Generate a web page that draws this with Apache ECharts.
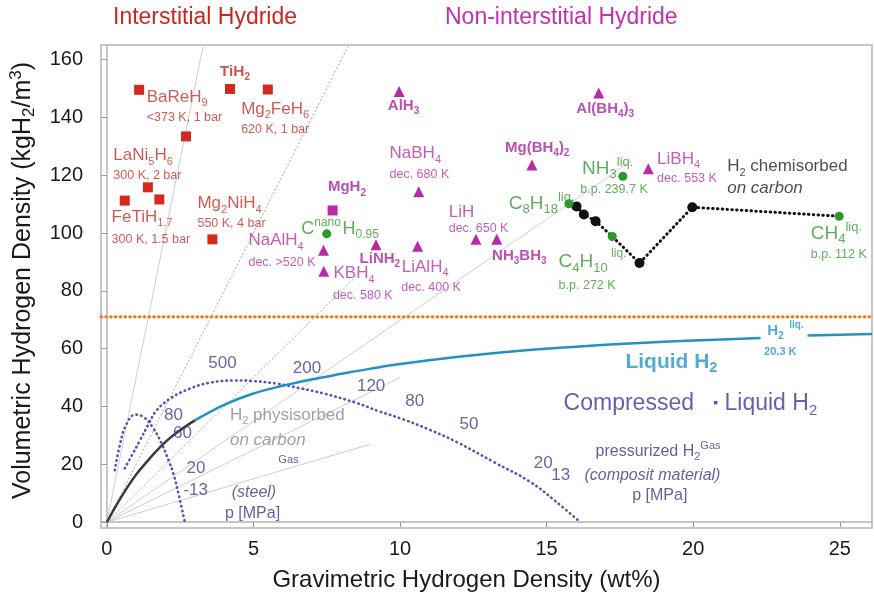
<!DOCTYPE html>
<html>
<head>
<meta charset="utf-8">
<script src="https://cdn.jsdelivr.net/npm/echarts@6/dist/echarts.min.js"></script>
<style>
  html, body { margin: 0; padding: 0; background: #fff; }
  #chart { width: 874px; height: 598px; }
</style>
</head>
<body>
<div id="chart"></div>
<script>
// 轴刻度
const xTicks = [0, 5, 10, 15, 20, 25]
const yTicks = [0, 20, 40, 60, 80, 100, 120, 140, 160]

// interstitial hydrides (red squares)
const interstitialPts = [[1.10, 149.5], [4.20, 149.8], [5.49, 149.6], [2.70, 133.4], [1.40, 115.8], [0.61, 111.2], [1.79, 111.6], [3.60, 97.8]]
// non-interstitial hydrides
const complexTriangles = [[9.97, 148.9], [16.78, 148.4], [14.5, 123.5], [10.64, 114.3], [18.47, 122.2], [7.39, 94.0], [7.40, 86.8], [9.18, 95.9], [10.6, 95.4], [12.59, 97.8], [13.3, 97.8]]
const complexSquares = [[7.70, 107.8]]
// hydrocarbons / liquids (green)
const liquidPts = [[7.50, 99.7], [15.76, 110.1], [17.6, 119.6], [17.24, 98.8], [24.98, 105.8]]
// H2 chemisorbed on carbon
const chemisorbedPts = [[16.02, 109.2], [16.27, 106.4], [16.67, 104.1], [18.17, 89.6], [19.97, 108.9]]
const chemisorbedPath = [[16.02, 109.2], [16.27, 106.4], [16.67, 104.1], [17.24, 98.8], [18.17, 89.6], [19.97, 108.9], [24.98, 105.8]]

// physisorbed / liquid H2 curve
const physisorbedCurve = [[0, 0], [0.3, 5.5], [0.6, 10.5], [1.0, 16.5], [1.5, 22.5], [2.0, 27.8], [2.5, 31.8], [3.0, 35.2]]
const liquidCurve = [[3.0, 35.2], [4, 40.6], [5, 44.5], [6, 47.2], [7, 49.4], [8, 51.3], [9, 53.1], [10, 54.7], [12, 57.2], [14, 59.2], [16, 60.7], [18, 61.9], [20, 62.8], [22.3, 63.7], [23, '-'], [23.9, 64.6], [26.1, 65.1]]
const liquidLevel = 71

// compressed gas
const steelCurve = [[0.27, 18], [0.45, 27], [0.65, 33.5], [0.96, 37.2], [1.25, 36.4], [1.55, 33], [1.87, 27.2], [2.1, 21.5], [2.27, 16.8], [2.45, 9.5], [2.66, 0]]
const compositeCurve = [[0.61, 18.6], [0.9, 24], [1.13, 28.3], [1.4, 33.5], [1.7, 38.7], [2.2, 43], [2.83, 46.2], [3.5, 48.2], [4.3, 49], [5.0, 48.8], [5.8, 47.9], [6.6, 46.3], [7.4, 44.5], [8.5, 41.3], [9.3, 38.3], [10.1, 35.6], [11, 32], [11.94, 27.7], [13.2, 20.8], [14.45, 13.9], [15.3, 7.3], [16.15, 0]]

// 密度参考线（从原点出发的终点）
const guideEnds = [[3.29, 165], [8.25, 165], [8.6, 86], [17.9, 125], [10, 50], [9, 27]]

// 文字标注 [x, y, text, style, align]
const textLabels = [
  [4.37, 155.9, 'TiH{b|2}', 'redB', 'center'],
  [1.36, 146.9, 'BaReH{b|9}', 'red', 'left'],
  [1.36, 139.8, '<373 K, 1 bar', 'redS', 'left'],
  [4.58, 142.9, 'Mg{b|2}FeH{b|6}', 'red', 'left'],
  [4.58, 135.7, '620 K, 1 bar', 'redS', 'left'],
  [0.22, 126.8, 'LaNi{b|5}H{b|6}', 'red', 'left'],
  [0.22, 119.9, '300 K, 2 bar', 'redS', 'left'],
  [0.16, 105.5, 'FeTiH{b|1.7}', 'red', 'left'],
  [0.16, 97.8, '300 K, 1.5 bar', 'redS', 'left'],
  [3.09, 110.1, 'Mg{b|2}NiH{b|4}', 'red', 'left'],
  [3.09, 103.4, '550 K, 4 bar', 'redS', 'left'],
  [10.12, 144.0, 'AlH{b|3}', 'magB', 'center'],
  [17.0, 142.9, 'Al(BH{b|4}){b|3}', 'magB', 'center'],
  [14.68, 129.4, 'Mg(BH{b|4}){b|2}', 'magB', 'center'],
  [10.52, 127.4, 'NaBH{b|4}', 'mag', 'center'],
  [10.66, 120.1, 'dec. 680 K', 'magS', 'center'],
  [18.77, 125.6, 'LiBH{b|4}', 'mag', 'left'],
  [18.77, 118.7, 'dec. 553 K', 'magS', 'left'],
  [8.19, 115.8, 'MgH{b|2}', 'magB', 'center'],
  [4.83, 97.4, 'NaAlH{b|4}', 'mag', 'left'],
  [4.83, 89.9, 'dec. >520 K', 'magS', 'left'],
  [7.73, 85.9, 'KBH{b|4}', 'mag', 'left'],
  [7.71, 78.4, 'dec. 580 K', 'magS', 'left'],
  [8.62, 91.1, 'LiNH{b|2}', 'magB', 'left'],
  [10.06, 88.2, 'LiAlH{b|4}', 'mag', 'left'],
  [10.04, 81.3, 'dec. 400 K', 'magS', 'left'],
  [11.66, 107.2, 'LiH', 'mag', 'left'],
  [11.66, 101.7, 'dec. 650 K', 'magS', 'left'],
  [13.14, 92.2, 'NH{b|3}BH{b|3}', 'magB', 'left'],
  [6.63, 101.4, 'C{p|nano}', 'grn', 'left'],
  [8.04, 101.4, 'H{b|0.95}', 'grn', 'left'],
  [13.71, 110.1, 'C{b|8}H{b|18}{p|liq.}', 'grnL', 'left'],
  [16.21, 122.2, 'NH{b|3}{p|liq.}', 'grnL', 'left'],
  [16.15, 114.9, 'b.p. 239.7 K', 'grnS', 'left'],
  [15.41, 89.9, 'C{b|4}H{b|10}', 'grnL', 'left'],
  [17.2, 93.0, 'liq.', 'grnT', 'left'],
  [15.41, 81.9, 'b.p. 272 K', 'grnS', 'left'],
  [24.01, 99.7, 'CH{b|4}{p|liq.}', 'grnL', 'left'],
  [24.01, 92.5, 'b.p. 112 K', 'grnS', 'left'],
  [21.16, 123.0, 'H{b|2} chemisorbed', 'blk', 'left'],
  [21.16, 115.3, 'on carbon', 'blkI', 'left'],
  [22.53, 66.3, 'H{b|2}{p|  liq.}', 'blu', 'left'],
  [22.42, 58.8, '20.3 K', 'bluS', 'left'],
  [17.69, 55.4, 'Liquid H{b|2}', 'bluL', 'left'],
  [15.58, 41.0, 'Compressed   {s|▪} Liquid H{b|2}', 'navyL', 'left'],
  [16.67, 24.3, 'pressurized H{b|2}{p|Gas}', 'navy', 'left'],
  [16.29, 16.2, '(composit material)', 'navyI', 'left'],
  [17.92, 9.3, 'p [MPa]', 'navy', 'left'],
  [4.2, 37.0, 'H{b|2} physisorbed', 'gry', 'left'],
  [4.2, 28.3, 'on carbon', 'gryI', 'left'],
  [5.85, 21.4, 'Gas', 'navyT', 'left'],
  [4.26, 10.1, '(steel)', 'navyI', 'left'],
  [4.03, 3.0, 'p [MPa]', 'navy', 'left']
]

// 压力标注
const pressureLabels = [[3.46, 54.8, '500'], [6.34, 53.1, '200'], [8.53, 47.0, '120'], [10.18, 41.8, '80'], [12.03, 33.7, '50'], [14.56, 20.3, '20'], [15.16, 16.2, '13'], [1.95, 37.0, '80'], [2.26, 30.6, '60'], [2.72, 18.5, '20'], [2.61, 11.1, '-13']]

const FF = 'Liberation Sans, Arial, Helvetica, sans-serif'

// 字号 / 颜色 / 粗细 / 斜体
const textStyles = {
  red: [17, '#c4322c', 'normal', 'normal'],
  redS: [12.5, '#c4322c', 'normal', 'normal'],
  redB: [15.5, '#c8281e', 'bold', 'normal'],
  mag: [17, '#b534a8', 'normal', 'normal'],
  magS: [12.5, '#b534a8', 'normal', 'normal'],
  magB: [15, '#a8249f', 'bold', 'normal'],
  grn: [18, '#3a9a34', 'normal', 'normal'],
  grnL: [19, '#3a9a34', 'normal', 'normal'],
  grnS: [12.5, '#3a9a34', 'normal', 'normal'],
  grnT: [12, '#3a9a34', 'normal', 'normal'],
  blk: [17, '#222222', 'normal', 'normal'],
  blkI: [17, '#222222', 'normal', 'italic'],
  blu: [15, '#2a95c8', 'bold', 'normal'],
  bluS: [11, '#2a95c8', 'bold', 'normal'],
  bluL: [21, '#2a95c8', 'bold', 'normal'],
  navyL: [23, '#3a3a98', 'normal', 'normal'],
  navy: [16, '#3a3a88', 'normal', 'normal'],
  navyI: [16, '#3a3a88', 'normal', 'italic'],
  navyT: [11, '#3a3a88', 'normal', 'normal'],
  gry: [17, '#8a8a8a', 'normal', 'normal'],
  gryI: [17, '#8a8a8a', 'normal', 'italic'],
  prs: [17, '#404090', 'normal', 'normal']
}

const labelStyle = (key, align) => {
  const [size, color, weight, fstyle] = textStyles[key]
  const small = Math.round(size * 0.66)
  const base = { color: color, fontFamily: FF, fontWeight: weight, fontStyle: fstyle }
  return {
    show: true,
    position: [0, 0],
    align: align,
    verticalAlign: 'middle',
    ...base,
    fontSize: size,
    lineHeight: size + 6,
    rich: {
      b: { ...base, fontSize: small, lineHeight: small + 2, verticalAlign: 'bottom' },
      p: { ...base, fontSize: small, lineHeight: small + 2, verticalAlign: 'top' },
      s: { ...base, color: '#2a2ab0', fontSize: Math.round(size * 0.6) }
    }
  }
}

const chart = echarts.init(document.getElementById('chart'))

const series = []

// 参考线
guideEnds.forEach((end, i) => {
  const dotted = i === 1 || i === 2
  series.push({
    type: 'line',
    data: [[0, 0], end],
    symbol: 'none',
    silent: true,
    z: 1,
    lineStyle: { color: dotted ? '#a8a8a8' : '#cfcfcf', width: 1, type: dotted ? [2, 2] : 'solid' }
  })
})

// 液氢密度线（橙色点线）
series.push({
  type: 'line',
  data: [[-0.2, liquidLevel], [26.1, liquidLevel]],
  symbol: 'none',
  z: 2,
  lineStyle: { color: '#f07a14', width: 3.2, type: [0.5, 4.3], cap: 'round' }
})

// 压缩气体曲线
;[steelCurve, compositeCurve].forEach(c => {
  series.push({
    type: 'line',
    data: c,
    smooth: 0.4,
    symbol: 'none',
    z: 3,
    lineStyle: { color: '#5252bc', width: 2.6, type: [0.5, 4.3], cap: 'round' }
  })
})

// 物理吸附 + 液氢曲线
series.push({
  type: 'line',
  data: physisorbedCurve,
  smooth: 0.4,
  symbol: 'none',
  z: 4,
  lineStyle: { color: '#3a3a3a', width: 2.5 }
})
series.push({
  type: 'line',
  data: liquidCurve,
  smooth: 0.4,
  symbol: 'none',
  connectNulls: false,
  z: 4,
  lineStyle: { color: '#2490c4', width: 2.5 }
})

// 化学吸附点线
series.push({
  type: 'line',
  data: chemisorbedPath,
  symbol: 'none',
  z: 5,
  lineStyle: { color: '#111111', width: 3, type: [0.5, 4.3], cap: 'round' }
})

// 散点
const pointSeries = [
  [interstitialPts, 'rect', '#d42a1e', 10],
  [complexTriangles, 'triangle', '#b82aa8', 11],
  [complexSquares, 'rect', '#b82aa8', 10],
  [chemisorbedPts, 'circle', '#111111', 10],
  [liquidPts, 'circle', '#2a9a2a', 9]
]
pointSeries.forEach(([pts, sym, color, size]) => {
  series.push({
    type: 'scatter',
    data: pts,
    symbol: sym,
    symbolSize: size,
    z: 6,
    itemStyle: { color: color, opacity: 1 }
  })
})

// 文字
const labelData = textLabels.map(([x, y, t, key, align]) => ({
  value: [x, y],
  t: t,
  label: labelStyle(key, align)
})).concat(pressureLabels.map(([x, y, t]) => ({
  value: [x, y],
  t: t,
  label: labelStyle('prs', 'left')
})))

series.push({
  type: 'scatter',
  data: labelData,
  symbolSize: 0,
  z: 10,
  silent: true,
  label: { show: true, formatter: p => p.data.t }
})

const axisFont = { fontFamily: FF, fontSize: 20, color: '#1a1a1a' }
const nameFont = { fontFamily: FF, fontSize: 24, color: '#1a1a1a' }

const options = {
  animation: false,
  backgroundColor: '#ffffff',
  grid: {
    show: true,
    left: 101,
    right: 2,
    top: 45,
    bottom: 70,
    outerBoundsMode: 'none',
    containLabel: false,
    borderColor: '#b4b4b4',
    borderWidth: 1.5
  },
  graphic: [
    { type: 'text', left: 113, top: 6, style: { text: 'Interstitial Hydride', fill: '#c8281e', font: '23px ' + FF } },
    { type: 'text', left: 445, top: 6, style: { text: 'Non-interstitial Hydride', fill: '#c030b0', font: '23px ' + FF } }
  ],
  xAxis: {
    type: 'value',
    min: -0.2,
    max: 26.1,
    name: 'Gravimetric Hydrogen Density (wt%)',
    nameLocation: 'middle',
    nameGap: 40,
    nameTextStyle: { ...nameFont, padding: [0, 40, 0, 0] },
    splitLine: { show: false },
    axisLine: { show: true, lineStyle: { color: '#b4b4b4', width: 1.5 } },
    axisTick: { show: true, customValues: xTicks, length: 5, lineStyle: { color: '#999999' } },
    axisLabel: { customValues: xTicks, margin: 11, ...axisFont }
  },
  yAxis: {
    type: 'value',
    min: -2,
    max: 165,
    name: 'Volumetric Hydrogen Density (kgH{b|2}/m{p|3})',
    nameLocation: 'middle',
    nameGap: 63,
    nameTextStyle: {
      ...nameFont,
      fontSize: 25,
      lineHeight: 30,
      padding: [0, 0, 0, 12],
      rich: {
        b: { fontFamily: FF, fontSize: 17, lineHeight: 19, color: '#1a1a1a', verticalAlign: 'bottom' },
        p: { fontFamily: FF, fontSize: 17, lineHeight: 19, color: '#1a1a1a', verticalAlign: 'top' }
      }
    },
    splitLine: { show: false },
    axisLine: { show: true, lineStyle: { color: '#b4b4b4', width: 1.5 } },
    axisTick: { show: true, customValues: yTicks, length: 5, lineStyle: { color: '#999999' } },
    axisLabel: { customValues: yTicks, margin: 18, ...axisFont }
  },
  series: series
}

chart.setOption(options)
</script>
</body>
</html>
